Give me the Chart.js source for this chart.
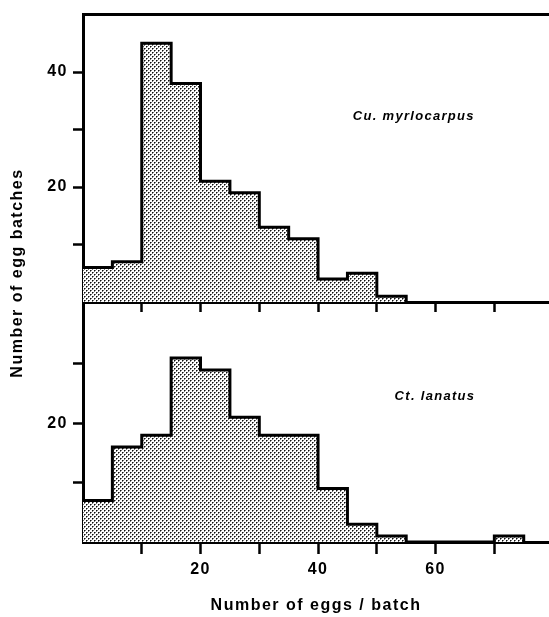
<!DOCTYPE html>
<html>
<head>
    <title>Egg batch size histograms</title>
    <script src="https://cdn.jsdelivr.net/npm/chart.js"></script>
    <style>
        body { margin: 0; background: #fff; }
        #wrap { position: relative; width: 549px; height: 617px; overflow: hidden; }
        #topChart { position: absolute; left: 0; top: 0; }
        #bottomChart { position: absolute; left: 0; top: 290px; }
        #yTitle {
            position: absolute; left: -132px; top: 263px;
            width: 300px; height: 20px; line-height: 20px;
            text-align: center; transform: rotate(-90deg);
            font: bold 16px "Liberation Sans", Arial, sans-serif;
            letter-spacing: 1.5px; color: #000;
        }
    </style>
</head>
<body>
    <div id="wrap">
        <canvas id="topChart" width="549" height="320"></canvas>
        <canvas id="bottomChart" width="549" height="327"></canvas>
        <div id="yTitle">Number of egg batches</div>
    </div>

    <script>
        // histogram bins (5 eggs wide) and counts
        const binEdges = [0, 5, 10, 15, 20, 25, 30, 35, 40, 45, 50, 55, 60, 65, 70, 75];
        const cuCounts = [6, 7, 45, 38, 21, 19, 13, 11, 4, 5, 1];
        const ctCounts = [7, 16, 18, 31, 29, 21, 18, 18, 9, 3, 1, 0, 0, 0, 1];

        // which ticks carry a label
        const xTickLabels = [20, 40, 60];
        const topTickLabels = [20, 40];
        const bottomTickLabels = [20];

        Chart.defaults.font.family = '"Liberation Sans", Arial, sans-serif';
        Chart.defaults.color = '#000';

        // dotted fill like the printed screen
        function stipple() {
            const tile = document.createElement('canvas');
            tile.width = 4; tile.height = 4;
            const t = tile.getContext('2d');
            t.fillStyle = '#fff'; t.fillRect(0, 0, 4, 4);
            t.fillStyle = '#777';
            t.fillRect(1, 0, 1, 1); t.fillRect(0, 1, 1, 1);
            t.fillRect(3, 2, 1, 1); t.fillRect(2, 3, 1, 1);
            t.fillStyle = '#111'; t.fillRect(0, 0, 1, 1); t.fillRect(2, 2, 1, 1);
            return t.createPattern(tile, 'repeat');
        }

        // step outline: one point per bin start, then drop to zero at the last edge
        function stepPoints(counts) {
            const pts = counts.map((c, i) => ({ x: binEdges[i], y: c }));
            pts.push({ x: binEdges[counts.length], y: 0 });
            return pts;
        }

        const notePlugin = {
            id: 'note',
            beforeDraw(chart) { chart.ctx.letterSpacing = '1.5px'; },
            afterDatasetsDraw(chart, args, opts) {
                const { ctx, scales } = chart;
                ctx.save();
                ctx.letterSpacing = '1.3px';
                ctx.font = 'italic bold 13px "Liberation Sans", Arial, sans-serif';
                ctx.fillStyle = '#000';
                ctx.textAlign = 'center';
                ctx.textBaseline = 'middle';
                ctx.fillText(opts.text, scales.x.getPixelForValue(opts.x), scales.y.getPixelForValue(opts.y));
                ctx.restore();
            }
        };

        function makeChart(id, counts, yMax, yLabels, note, isBottom) {
            const scales = {
                x: {
                    type: 'linear', min: 0, max: 79.3,
                    afterBuildTicks: a => { a.ticks = a.ticks.filter(t => t.value > 0); },
                    afterFit: a => { a.height = isBottom ? 75 : 18; },
                    ticks: {
                        stepSize: 10, includeBounds: false, display: isBottom, padding: 6,
                        autoSkip: false, maxRotation: 0,
                        font: { size: 16, weight: 'bold' },
                        callback: v => xTickLabels.includes(v) ? String(v) : ''
                    },
                    grid: { drawOnChartArea: false, tickLength: isBottom ? 12 : 10, tickWidth: 2.5, tickColor: '#000' },
                    border: { display: true, width: 3, color: '#000' },
                    title: {
                        display: isBottom, text: 'Number of eggs / batch',
                        font: { size: 16, weight: 'bold' }, padding: { top: 0, bottom: 2 }
                    }
                },
                y: {
                    min: 0, max: yMax,
                    afterBuildTicks: a => { a.ticks = a.ticks.filter(t => t.value > 0 && t.value < yMax); },
                    afterFit: a => { a.width = 83; },
                    ticks: {
                        stepSize: 10, padding: 5,
                        font: { size: 16, weight: 'bold' },
                        callback: v => yLabels.includes(v) ? String(v) : ''
                    },
                    grid: { drawOnChartArea: false, tickLength: 10, tickWidth: 2.5, tickColor: '#000' },
                    border: { display: true, width: 3, color: '#000' }
                }
            };
            if (!isBottom) {
                // top frame line of the figure
                scales.frame = {
                    type: 'linear', position: 'top',
                    afterFit: a => { a.height = 0; },
                    ticks: { display: false },
                    grid: { display: false, drawTicks: false },
                    border: { display: true, width: 3, color: '#000' }
                };
            }
            return new Chart(document.getElementById(id), {
                type: 'line',
                data: {
                    datasets: [{
                        data: stepPoints(counts),
                        stepped: true,
                        fill: 'origin',
                        backgroundColor: stipple(),
                        borderColor: '#000',
                        borderWidth: 3,
                        pointRadius: 0,
                        xAxisID: 'x', yAxisID: 'y'
                    }]
                },
                options: {
                    responsive: false,
                    animation: false,
                    devicePixelRatio: 1,
                    layout: { padding: { top: isBottom ? 12 : 10, left: 0, right: 0, bottom: 0 } },
                    plugins: { legend: { display: false }, tooltip: { enabled: false }, note: note },
                    scales: scales
                },
                plugins: [notePlugin]
            });
        }

        makeChart('topChart', cuCounts, 50, topTickLabels, { text: 'Cu. myrlocarpus', x: 56.3, y: 32.2 }, false);
        makeChart('bottomChart', ctCounts, 40, bottomTickLabels, { text: 'Ct. lanatus', x: 59.9, y: 24.6 }, true);
    </script>
</body>
</html>
